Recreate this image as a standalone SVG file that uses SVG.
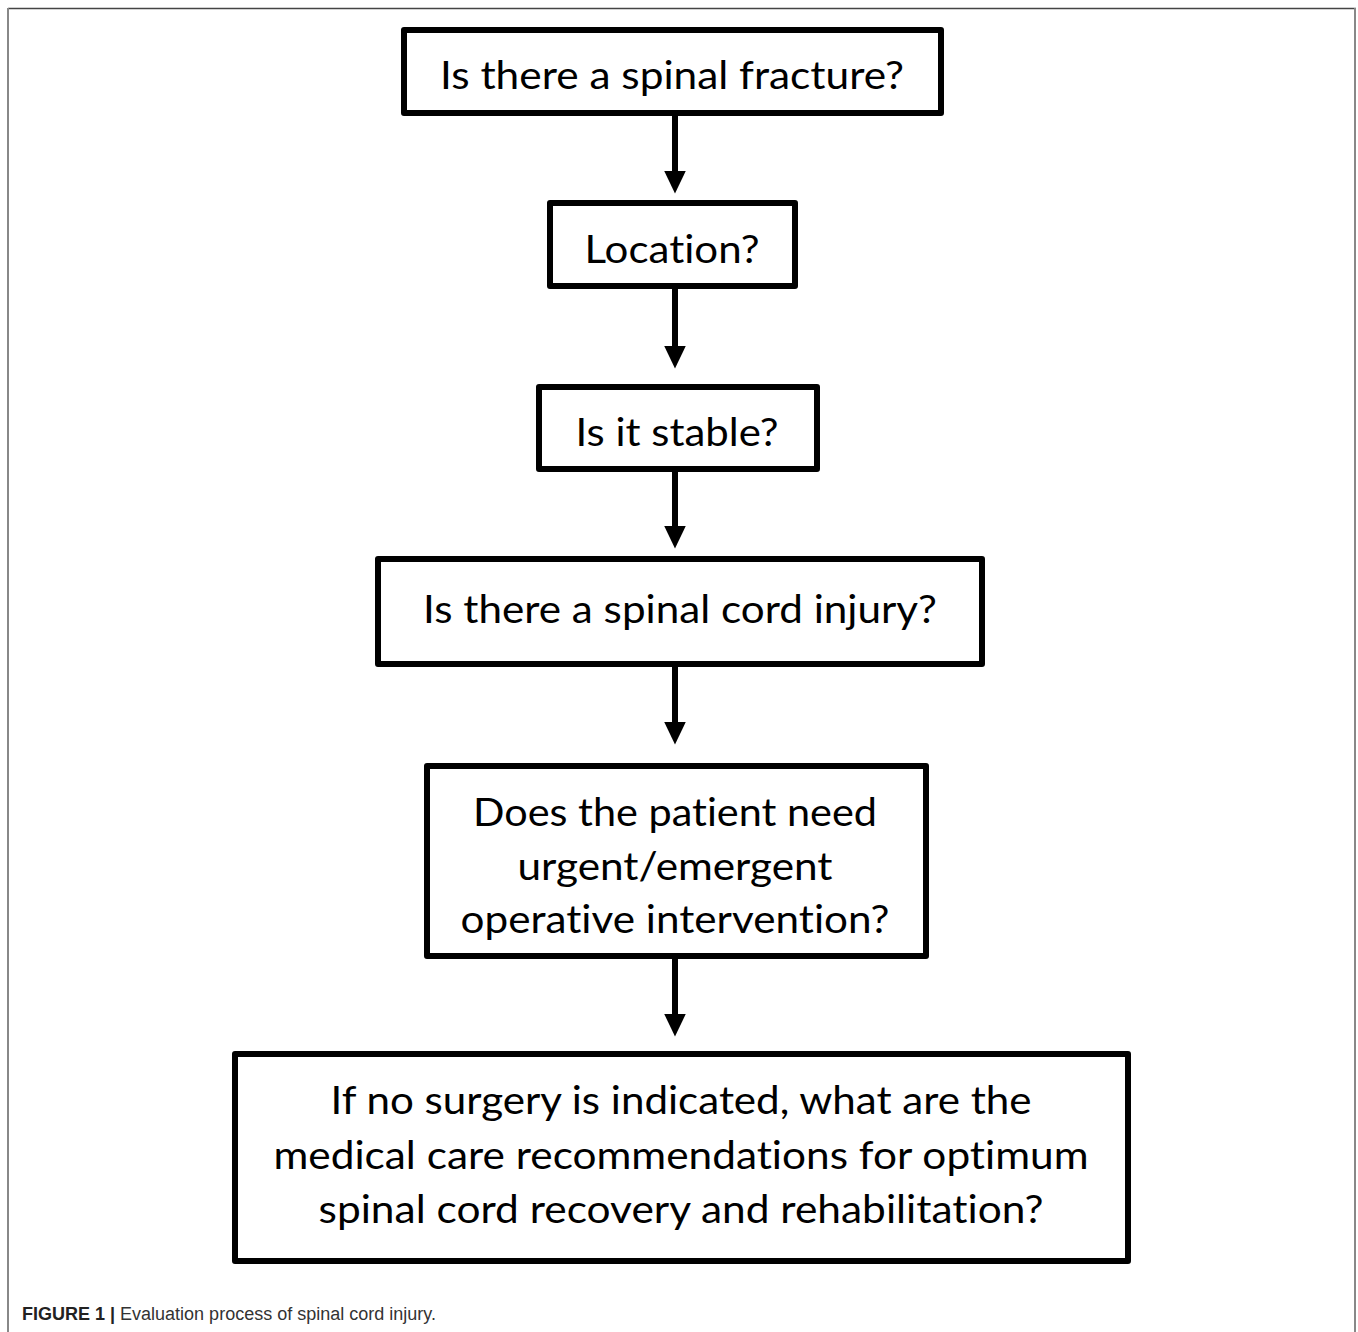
<svg xmlns="http://www.w3.org/2000/svg" width="1358" height="1332" viewBox="0 0 1358 1332">
<defs>
<style>
.box{fill:#fff;stroke:#000;stroke-width:6;stroke-linejoin:round}
.t{font-family:Lato,"Open Sans","Liberation Sans",sans-serif;font-size:39px;fill:#000;text-anchor:middle;font-variant-ligatures:none;font-feature-settings:"liga" 0,"clig" 0}
.conn{stroke:#000;stroke-width:6;fill:none}
.cap{font-family:"Liberation Sans",Arial,sans-serif;font-size:18px;fill:#333}
</style>
<marker id="ah" markerUnits="userSpaceOnUse" markerWidth="24" markerHeight="24" viewBox="0 0 24 24" refX="0.5" refY="12" orient="auto">
<path d="M0,1 L23,12 L0,23 Z" fill="#000"/>
</marker>
</defs>
<rect width="1358" height="1332" fill="#fff"/>
<g id="frame">
<line x1="8" y1="8.5" x2="1356" y2="8.5" stroke="#444" stroke-width="1.5"/>
<line x1="8" y1="8" x2="8" y2="1332" stroke="#888" stroke-width="2"/>
<line x1="1355" y1="8" x2="1355" y2="1332" stroke="#888" stroke-width="2"/>
</g>
<g id="connectors">
<line class="conn" x1="675" y1="114" x2="675" y2="171" marker-end="url(#ah)"/>
<line class="conn" x1="675" y1="287" x2="675" y2="346" marker-end="url(#ah)"/>
<line class="conn" x1="675" y1="470" x2="675" y2="526" marker-end="url(#ah)"/>
<line class="conn" x1="675" y1="665" x2="675" y2="722" marker-end="url(#ah)"/>
<line class="conn" x1="675" y1="957" x2="675" y2="1014" marker-end="url(#ah)"/>
</g>
<g id="n1">
<rect class="box" x="404" y="30" width="537" height="83"/>
<text class="t" x="672" y="89" textLength="464" lengthAdjust="spacingAndGlyphs">Is there a spinal fracture?</text>
</g>
<g id="n2">
<rect class="box" x="550" y="203" width="245" height="83"/>
<text class="t" x="672" y="263" textLength="175" lengthAdjust="spacingAndGlyphs">Location?</text>
</g>
<g id="n3">
<rect class="box" x="539" y="387" width="278" height="82"/>
<text class="t" x="677" y="446" textLength="203" lengthAdjust="spacingAndGlyphs">Is it stable?</text>
</g>
<g id="n4">
<rect class="box" x="378" y="559" width="604" height="105"/>
<text class="t" x="680" y="623" textLength="514" lengthAdjust="spacingAndGlyphs">Is there a spinal cord injury?</text>
</g>
<g id="n5">
<rect class="box" x="427" y="766" width="499" height="190"/>
<text class="t" x="675" y="826" textLength="404" lengthAdjust="spacingAndGlyphs">Does the patient need</text>
<text class="t" x="675" y="880" textLength="315" lengthAdjust="spacingAndGlyphs">urgent/emergent</text>
<text class="t" x="675" y="933" textLength="429" lengthAdjust="spacingAndGlyphs">operative intervention?</text>
</g>
<g id="n6">
<rect class="box" x="235" y="1054" width="893" height="207"/>
<text class="t" x="681" y="1114" textLength="701" lengthAdjust="spacingAndGlyphs">If no surgery is indicated, what are the</text>
<text class="t" x="681" y="1169" textLength="815" lengthAdjust="spacingAndGlyphs">medical care recommendations for optimum</text>
<text class="t" x="681" y="1223" textLength="725" lengthAdjust="spacingAndGlyphs">spinal cord recovery and rehabilitation?</text>
</g>
<g id="caption">
<text class="cap" x="22" y="1320"><tspan font-weight="bold" fill="#222">FIGURE 1 |</tspan> Evaluation process of spinal cord injury.</text>
</g>
</svg>
